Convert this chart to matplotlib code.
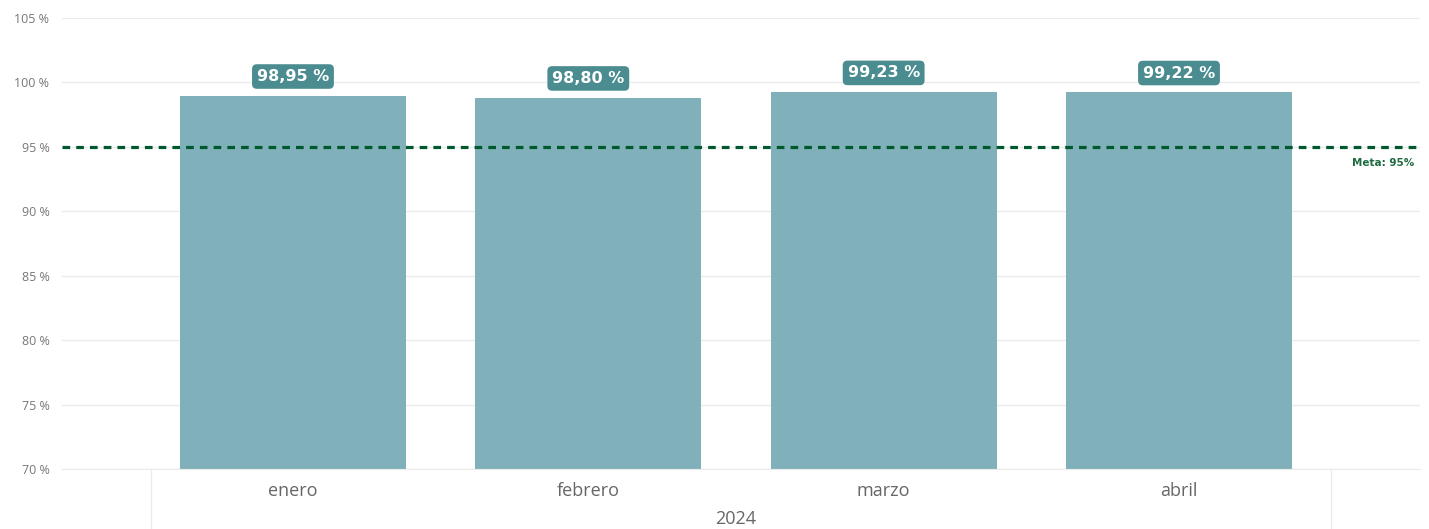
import matplotlib.pyplot as plt
from matplotlib.transforms import blended_transform_factory
import numpy as np

meses = ['enero', 'febrero', 'marzo', 'abril']
valores = [98.95, 98.80, 99.23, 99.22]
etiquetas = ['98,95 %', '98,80 %', '99,23 %', '99,22 %']
anio = '2024'
meta = 95
yticks = [70, 75, 80, 85, 90, 95, 100, 105]

plt.rcParams['font.family'] = ['Open Sans', 'DejaVu Sans']

fig = plt.figure(figsize=(14.29, 5.29), dpi=100)
ax = fig.add_axes([62/1429, 1-469/529, (1420-62)/1429, (469-18)/529])

x = np.arange(len(meses))
ax.bar(x, [v - 70 for v in valores], bottom=70, width=0.766, color='#80b1bb', zorder=2)

# linea de meta
ax.axhline(meta, color='#00582f', lw=2.3, ls=(0, (2.4, 1.9)), zorder=3)
ax.text(1414, 529 - 163, 'Meta: 95%', transform=None, fontsize=7.5, color='#1f6b40',
        ha='right', va='center', family=['DejaVu Sans'], fontweight='bold')

# etiquetas de datos
for i, v in enumerate(valores):
    ax.annotate(etiquetas[i], (x[i], v), xytext=(0, 14), textcoords='offset points',
                ha='center', va='center', color='white', fontsize=11.5, fontweight='bold',
                family=['DejaVu Sans'],
                bbox=dict(boxstyle='round,pad=0.3,rounding_size=0.3', fc='#4a8c8f', ec='none'),
                zorder=4)

ax.set_ylim(70, 105)
ax.set_xlim(-0.782, 3.816)
ax.set_yticks(yticks)
ax.set_yticklabels([f'{t} %' for t in yticks], fontsize=9, color='#777777')
ax.grid(axis='y', color='#ebebeb', lw=1, zorder=0)
ax.set_xticks(x)
ax.set_xticklabels(meses, fontsize=13, color='#666666')
ax.tick_params(axis='x', length=0, pad=9)
ax.tick_params(axis='y', length=0, pad=9)
for s in ['top', 'right', 'left']:
    ax.spines[s].set_visible(False)
ax.spines['bottom'].set_color('#ebebeb')

# separadores del año
tr = blended_transform_factory(ax.transData, ax.transAxes)
for xx in [-0.481, 3.515]:
    ax.plot([xx, xx], [0, -0.14], transform=tr, color='#ebebeb', lw=1, clip_on=False)
ax.text(1.5, -0.11, anio, transform=tr, ha='center', va='center', fontsize=13, color='#666666')

fig.savefig('out.png', dpi=100)
